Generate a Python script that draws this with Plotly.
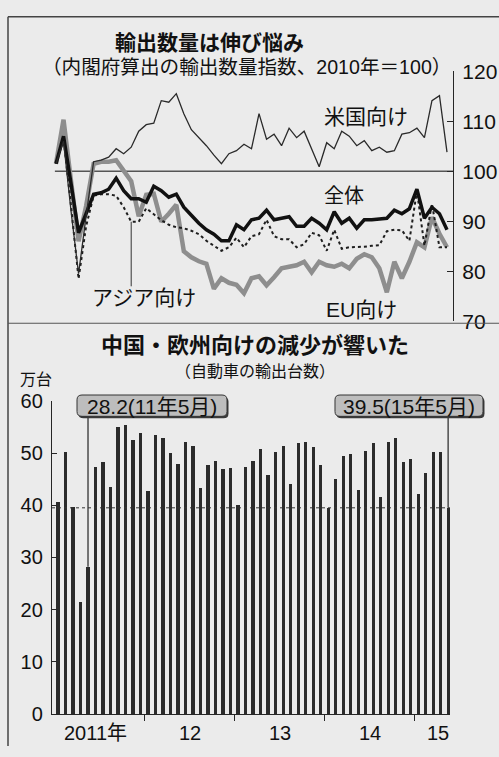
import plotly.graph_objects as go

W, H = 499, 757

# ---------------- data ----------------
# monthly, Jan 2011 .. May 2015
months = [f"{2011 + m // 12}-{m % 12 + 1:02d}" for m in range(53)]
idx = list(range(len(months)))

total = [101.5, 107.0, 97.5, 87.7, 91.5, 95.4, 95.7, 96.4, 98.6, 96.1, 94.5, 94.5,
         93.8, 97.0, 96.1, 94.8, 95.4, 92.8, 91.2, 89.6, 88.3, 87.4, 86.1, 86.1,
         89.3, 88.3, 90.3, 90.6, 92.2, 90.3, 90.6, 90.9, 89.0, 89.0, 90.6, 89.6,
         88.3, 91.9, 89.6, 90.6, 88.6, 90.3, 90.3, 90.4, 90.6, 92.2, 91.5, 92.5,
         96.4, 90.6, 92.8, 91.5, 88.3]

eu = [101.5, 110.3, 98.0, 86.0, 93.0, 101.5, 101.9, 101.9, 102.2, 100.0, 98.0, 91.0,
      95.3, 95.5, 89.9, 91.5, 93.3, 84.0, 82.8, 82.0, 81.5, 76.5, 78.6, 77.7,
      77.3, 75.6, 78.6, 79.0, 77.2, 78.8, 80.6, 80.9, 81.2, 81.9, 79.8, 81.9,
      81.2, 80.9, 81.5, 80.6, 82.5, 83.4, 82.8, 80.6, 75.8, 81.9, 78.6, 81.9,
      85.8, 84.8, 90.8, 87.5, 84.8]

asia = [101.5, 106.5, 93.0, 78.5, 89.0, 95.1, 95.4, 95.4, 95.1, 92.8, 89.9, 89.9,
        92.6, 91.4, 90.2, 89.3, 88.8, 88.6, 88.1, 87.4, 86.1, 85.1, 84.1, 84.8,
        86.7, 84.8, 87.0, 87.4, 90.3, 87.0, 86.4, 86.4, 84.8, 85.4, 87.7, 87.2,
        84.1, 88.3, 84.5, 84.8, 84.8, 84.9, 85.1, 85.2, 88.0, 88.3, 88.2, 86.1,
        96.1, 85.1, 93.5, 84.8, 84.8]

us = [101.5, 106.0, 92.0, 79.5, 91.0, 101.9, 102.2, 102.8, 104.5, 103.5, 104.8, 108.0,
      109.3, 109.6, 114.1, 113.8, 115.5, 111.5, 108.3, 106.7, 105.1, 103.2, 101.5, 103.5,
      104.1, 105.4, 104.5, 111.5, 106.4, 107.4, 105.1, 108.6, 106.7, 108.0, 104.5, 100.9,
      105.7, 104.5, 108.0, 107.0, 105.1, 106.1, 104.1, 104.8, 103.8, 104.1, 107.4, 107.7,
      108.6, 106.7, 114.1, 115.1, 103.8]

# car exports, 10,000 units
cars = [40.7, 50.3, 39.6, 21.4, 28.2, 47.4, 48.3, 43.5, 55.0, 55.4, 52.6, 53.9,
        42.8, 53.5, 52.9, 50.1, 48.0, 52.2, 51.4, 43.3, 47.8, 48.6, 46.9, 47.2,
        40.1, 47.4, 48.5, 50.9, 45.8, 50.3, 51.4, 44.1, 52.0, 52.2, 51.2, 47.8,
        39.5, 45.0, 49.5, 49.9, 42.9, 50.5, 52.0, 41.6, 52.2, 53.0, 48.3, 48.9,
        42.1, 46.3, 50.3, 50.2, 39.5]

year_labels = ["2011年", "12", "13", "14", "15"]
year_label_pos = [5.0, 17.6, 29.6, 41.6, 50.6]
year_bounds = [11.5, 23.5, 35.5, 47.5]
index_ticks = [70, 80, 90, 100, 110, 120]
car_ticks = [0, 10, 20, 30, 40, 50, 60]

callout_1 = ("28.2(11年5月)", 4, 28.2)
callout_2 = ("39.5(15年5月)", 52, 39.5)

# ---------------- helpers ----------------
def X(px):
    return px / W

def Y(py):
    return 1 - py / H

INK = "#262626"
NUM = "Liberation Sans, Arial, Noto Sans CJK JP, sans-serif"
JP = "Noto Sans CJK JP, sans-serif"

fig = go.Figure()

# top chart lines
fig.add_trace(go.Scatter(x=idx, y=eu, mode="lines", line=dict(color="#8e8e8e", width=4.5),
                         name="EU向け", xaxis="x", yaxis="y"))
fig.add_trace(go.Scatter(x=idx, y=asia, mode="lines", line=dict(color="#1e1e1e", width=2, dash="dot"),
                         name="アジア向け", xaxis="x", yaxis="y"))
fig.add_trace(go.Scatter(x=idx, y=total, mode="lines", line=dict(color="#111111", width=3.5),
                         name="全体", xaxis="x", yaxis="y"))
fig.add_trace(go.Scatter(x=idx, y=us, mode="lines", line=dict(color="#2a2a2a", width=1.3),
                         name="米国向け", xaxis="x", yaxis="y"))

# bottom chart bars
fig.add_trace(go.Bar(x=idx, y=cars, width=0.42, marker=dict(color="#2b2b2b", line=dict(width=0)),
                     name="自動車の輸出台数", xaxis="x2", yaxis="y2"))

shapes = []
# frame lines
shapes.append(dict(type="line", xref="paper", yref="paper", x0=X(8), x1=X(8), y0=Y(5), y1=0,
                   line=dict(color="#444", width=1.5)))
shapes.append(dict(type="line", xref="paper", yref="paper", x0=X(8), x1=1, y0=Y(5), y1=Y(5),
                   line=dict(color="#444", width=1.5)))
shapes.append(dict(type="line", xref="paper", yref="paper", x0=X(8), x1=1, y0=Y(321), y1=Y(321),
                   line=dict(color="#555", width=1.2)))
# 100 line
shapes.append(dict(type="line", xref="x", yref="y", x0=-0.15, x1=52.8, y0=100, y1=100,
                   line=dict(color="#555", width=1.5), layer="below"))
# Asia pointer
shapes.append(dict(type="line", xref="x", yref="y", x0=10, x1=10, y0=77.0, y1=asia[10],
                   line=dict(color="#333", width=1)))
# 39.5 dotted reference
shapes.append(dict(type="line", xref="x2", yref="y2", x0=-0.8, x1=52.25, y0=callout_2[2], y1=callout_2[2],
                   line=dict(color="#333", width=1, dash="dot")))
# callout pointers
for txt, xi, v in (callout_1, callout_2):
    shapes.append(dict(type="line", xref="x2", yref="y2", x0=xi, x1=xi, y0=v, y1=57.0,
                       line=dict(color="#333", width=1.3)))


def rrect(x0, y0, x1, y1, r):
    pts = [
        ("M", (x0 + r, y0)), ("L", (x1 - r, y0)), ("Q", (x1, y0), (x1, y0 + r)),
        ("L", (x1, y1 - r)), ("Q", (x1, y1), (x1 - r, y1)), ("L", (x0 + r, y1)),
        ("Q", (x0, y1), (x0, y1 - r)), ("L", (x0, y0 + r)), ("Q", (x0, y0), (x0 + r, y0)),
    ]
    out = []
    for p in pts:
        cmd = p[0]
        coords = " ".join(f"{X(a):.5f},{Y(b):.5f}" for a, b in p[1:])
        out.append(f"{cmd} {coords}")
    return " ".join(out) + " Z"


boxes = [(77, 395, 227, 417), (335, 395, 483, 417)]
for (x0, y0, x1, y1) in boxes:
    shapes.append(dict(type="path", xref="paper", yref="paper", path=rrect(x0 + 1.5, y0 + 2, x1 + 1.5, y1 + 2, 5),
                       fillcolor="#3a3a3a", line=dict(width=0)))
    shapes.append(dict(type="path", xref="paper", yref="paper", path=rrect(x0, y0, x1, y1, 5),
                       fillcolor="#bdbdbd", line=dict(color="#333", width=1)))

ann = []
def text(t, px, py, size, bold=False, family=JP, xanchor="center"):
    ann.append(dict(text=f"<b>{t}</b>" if bold else t, x=X(px), y=Y(py), xref="paper", yref="paper",
                    showarrow=False, xanchor=xanchor, yanchor="middle",
                    font=dict(size=size, color="#111", family=family)))

text("輸出数量は伸び悩み", 209, 30, 21, bold=True)
text("（内閣府算出の輸出数量指数、2010年＝100）", 246, 57, 19.6, family=NUM)
text("米国向け", 366, 106, 21)
text("全体", 344, 188, 20)
text("アジア向け", 144, 293, 21)
text("EU向け", 361, 307, 21, family=NUM)
text("中国・欧州向けの減少が響いた", 255, 341, 22, bold=True)
text("（自動車の輸出台数）", 255, 369, 16)
text("万台", 36, 377, 16)

for (txt, xi, v), (x0, y0, x1, y1) in zip((callout_1, callout_2), boxes):
    ann.append(dict(text=txt, x=X((x0 + x1) / 2), y=Y((y0 + y1) / 2 + 0.5), xref="paper", yref="paper",
                    showarrow=False, xanchor="center", yanchor="middle",
                    font=dict(size=21, color="#111", family=NUM)))

for lab, pos in zip(year_labels, year_label_pos):
    ann.append(dict(text=lab, x=pos, y=Y(744), xref="x2", yref="paper", showarrow=False,
                    xanchor="center", yanchor="middle", font=dict(size=20, color="#111", family=NUM)))

fig.update_layout(
    width=W, height=H, autosize=False,
    margin=dict(l=0, r=0, t=0, b=0),
    paper_bgcolor="#ebebeb", plot_bgcolor="rgba(0,0,0,0)",
    showlegend=False, bargap=0,
    font=dict(family=NUM, color="#111"),
    xaxis=dict(domain=[X(50), X(453)], range=[-0.8, 52.8], visible=False, anchor="y", fixedrange=True),
    yaxis=dict(domain=[Y(319), Y(61)], range=[70, 120], side="right", anchor="x",
               showline=True, linecolor=INK, linewidth=1.3, ticks="inside", ticklen=6,
               tickcolor=INK, tickwidth=1.3, tickvals=index_ticks, showgrid=False, zeroline=False,
               ticklabelstandoff=4, tickfont=dict(size=21, color="#111", family=NUM)),
    xaxis2=dict(domain=[X(52), X(450)], range=[-0.8, 52.25], anchor="y2",
                showline=True, linecolor=INK, linewidth=1.3, ticks="outside", ticklen=6,
                tickcolor=INK, tickwidth=1.3, tickvals=year_bounds, ticktext=[""] * len(year_bounds),
                showgrid=False, zeroline=False),
    yaxis2=dict(domain=[Y(724), Y(401)], range=[0, 60], anchor="x2",
                showline=True, linecolor=INK, linewidth=1.3, ticks="inside", ticklen=5,
                tickcolor=INK, tickwidth=1.3, tickvals=car_ticks, showgrid=False, zeroline=False,
                ticklabelstandoff=4, tickfont=dict(size=20, color="#111", family=NUM)),
    shapes=shapes,
    annotations=ann,
)

fig.write_html("out.html",
               config={"displayModeBar": False},
               post_script="document.body.style.margin='0';document.body.style.padding='0';"
                           "document.body.style.overflow='hidden';")
